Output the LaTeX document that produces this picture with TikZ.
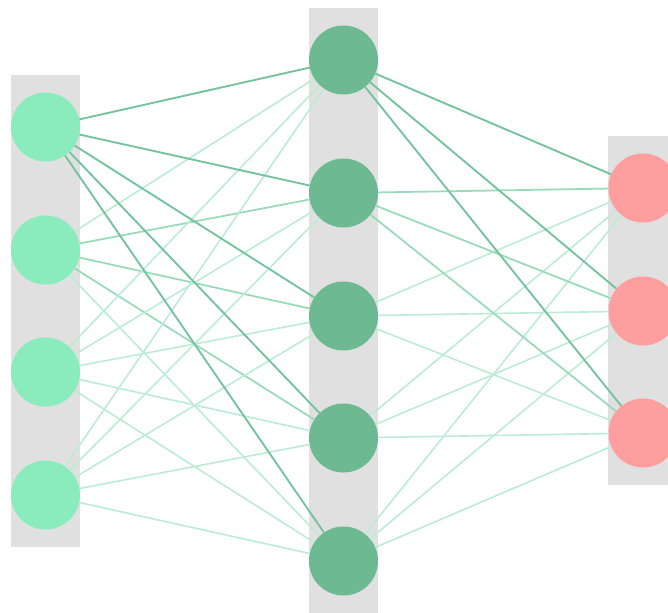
\documentclass[tikz,border=0pt]{standalone}

\definecolor{inputgreen}{HTML}{8AEBBD}
\definecolor{hiddengreen}{HTML}{6DB991}
\definecolor{outputred}{HTML}{FF9E9E}
\definecolor{lanegray}{HTML}{E0E0E0}
\definecolor{edgeheavy}{HTML}{74C39E}
\definecolor{edgemedium}{HTML}{99DABB}
\definecolor{edgelight}{HTML}{BDECD6}

\tikzset{
    neuron/.style={circle, minimum size=2.07cm, inner sep=0pt, draw=none},
    wheavy/.style={draw=edgeheavy, line width=1.6pt},
    wmedium/.style={draw=edgemedium, line width=1.5pt},
    wlight/.style={draw=edgelight, line width=1.4pt},
}

\begin{document}
\begin{tikzpicture}[x=0.03cm, y=-0.03cm]

        \clip (0,0) rectangle (668,613);
        \useasboundingbox (0,0) rectangle (668,613);

        % lanes
        \fill[lanegray] (11,75) rectangle (80,547);
        \fill[lanegray] (309,8) rectangle (378,613);
        \fill[lanegray] (608,136) rectangle (668,485);

        % neurons
        \foreach \i/\y in {1/127, 2/250, 3/372, 4/495}{
            \node[neuron, fill=inputgreen] (in\i) at (45.5,\y) {};
        }
        \foreach \i/\y in {1/60, 2/193, 3/316, 4/438, 5/561}{
            \node[neuron, fill=hiddengreen] (hid\i) at (343.5,\y) {};
        }
        \foreach \i/\y in {1/188, 2/311, 3/433}{
            \node[neuron, fill=outputred] (out\i) at (643,\y) {};
        }

        % input -> hidden
        \foreach \i/\j/\w in {
            2/1/wlight, 2/2/wmedium, 2/3/wmedium, 2/4/wmedium, 2/5/wlight,
            3/1/wlight, 3/2/wlight, 3/3/wlight, 3/4/wlight, 3/5/wlight,
            4/1/wlight, 4/2/wlight, 4/3/wlight, 4/4/wlight, 4/5/wlight,
            1/1/wheavy, 1/2/wheavy, 1/3/wheavy, 1/4/wheavy, 1/5/wheavy}{
            \draw[\w] (in\i) -- (hid\j);
        }

        % hidden -> output
        \foreach \j/\k/\w in {
            3/1/wlight, 3/2/wlight, 3/3/wlight,
            4/1/wlight, 4/2/wlight, 4/3/wlight,
            5/1/wlight, 5/2/wlight, 5/3/wlight,
            2/1/wmedium, 2/2/wmedium, 2/3/wmedium,
            1/1/wheavy, 1/2/wheavy, 1/3/wheavy}{
            \draw[\w] (hid\j) -- (out\k);
        }

\end{tikzpicture}
\end{document}
